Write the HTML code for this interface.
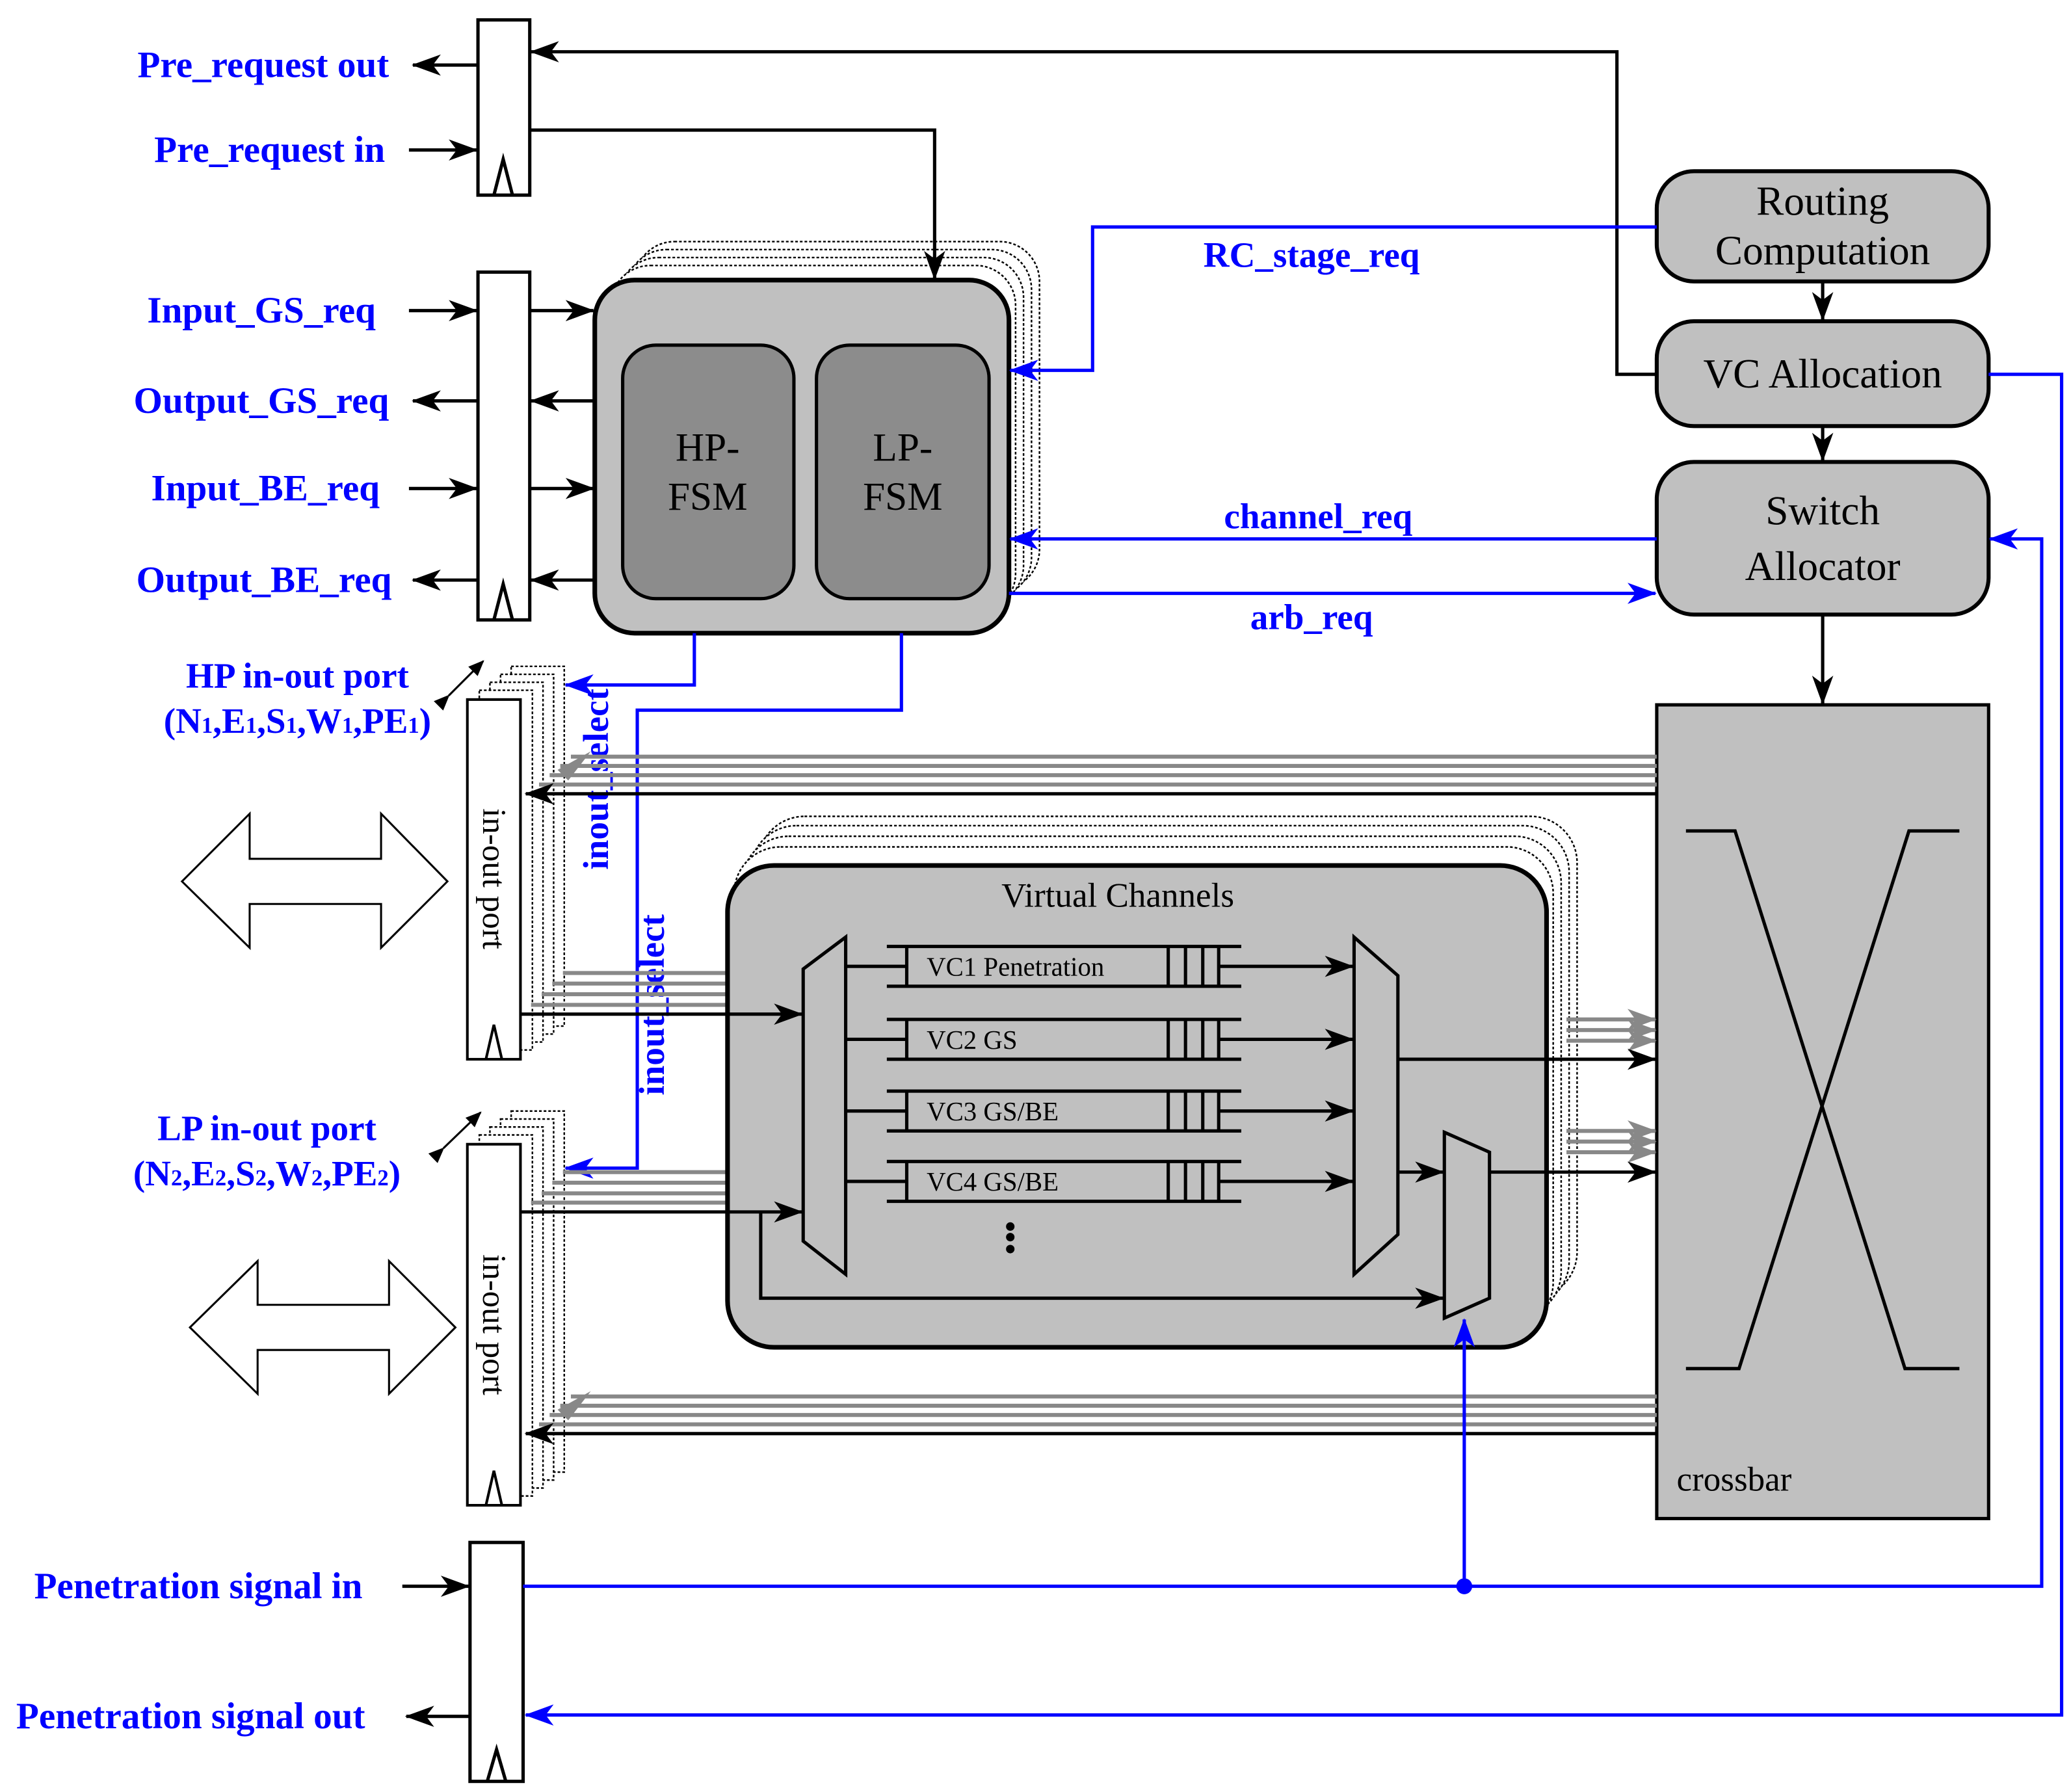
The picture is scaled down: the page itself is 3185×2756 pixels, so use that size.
<!DOCTYPE html>
<html><head><meta charset="utf-8"><style>html,body{margin:0;padding:0;background:#fff}svg{display:block}</style></head>
<body>
<svg xmlns="http://www.w3.org/2000/svg" width="3185" height="2756" viewBox="0 0 1560 1350">
<defs>
<marker id="a" viewBox="0 0 22 16" markerWidth="22" markerHeight="16" refX="21" refY="8" orient="auto" markerUnits="userSpaceOnUse"><path d="M0,0 L22,8 L0,16 L6,8Z" fill="#000"/></marker>
<marker id="b" viewBox="0 0 22 16" markerWidth="22" markerHeight="16" refX="21" refY="8" orient="auto" markerUnits="userSpaceOnUse"><path d="M0,0 L22,8 L0,16 L6,8Z" fill="#00f"/></marker>
<marker id="g" viewBox="0 0 22 16" markerWidth="22" markerHeight="16" refX="21" refY="8" orient="auto" markerUnits="userSpaceOnUse"><path d="M0,0 L22,8 L0,16 L6,8Z" fill="#888"/></marker>
<marker id="s" viewBox="0 0 12 10" markerWidth="12" markerHeight="10" refX="11" refY="5" orient="auto" markerUnits="userSpaceOnUse"><path d="M0,0 L12,5 L0,10Z" fill="#000"/></marker>
</defs>
<g font-family="Liberation Serif, serif" font-weight="bold" fill="#00f" font-size="28" text-anchor="end">
<text x="293" y="58">Pre_request out</text>
<text x="290" y="122">Pre_request in</text>
<text x="283" y="243">Input_GS_req</text>
<text x="293" y="311">Output_GS_req</text>
<text x="286" y="377">Input_BE_req</text>
<text x="295" y="446">Output_BE_req</text>
<text x="273" y="1204">Penetration signal in</text>
<text x="275" y="1302">Penetration signal out</text>
</g>
<g font-family="Liberation Serif, serif" font-weight="bold" fill="#00f" font-size="27" text-anchor="middle">
<text x="224" y="518">HP in-out port</text>
<text x="224" y="552">(N<tspan font-size="17">1</tspan>,E<tspan font-size="17">1</tspan>,S<tspan font-size="17">1</tspan>,W<tspan font-size="17">1</tspan>,PE<tspan font-size="17">1</tspan>)</text>
<text x="201" y="859">LP in-out port</text>
<text x="201" y="893">(N<tspan font-size="17">2</tspan>,E<tspan font-size="17">2</tspan>,S<tspan font-size="17">2</tspan>,W<tspan font-size="17">2</tspan>,PE<tspan font-size="17">2</tspan>)</text>
<text x="988" y="201">RC_stage_req</text>
<text x="993" y="398">channel_req</text>
<text x="988" y="474">arb_req</text>
<text transform="translate(458,587) rotate(-90)">inout_select</text>
<text transform="translate(500,757) rotate(-90)">inout_select</text>
</g>
<g stroke="#000" stroke-width="2.5" fill="none">
<rect x="360" y="15" width="39" height="132" fill="#fff"/>
<path d="M372,147 L379,120 L386,147"/>
<rect x="360" y="205" width="39" height="262" fill="#fff"/>
<path d="M372,467 L379,440 L386,467"/>
<rect x="354" y="1162" width="40" height="180" fill="#fff"/>
<path d="M367,1342 L374,1318 L381,1342"/>
<path d="M360,49 H311" marker-end="url(#a)"/>
<path d="M308,113 H359" marker-end="url(#a)"/>
<path d="M308,234 H359" marker-end="url(#a)"/>
<path d="M399,234 H447" marker-end="url(#a)"/>
<path d="M360,302 H311" marker-end="url(#a)"/>
<path d="M448,302 H400" marker-end="url(#a)"/>
<path d="M308,368 H359" marker-end="url(#a)"/>
<path d="M399,368 H447" marker-end="url(#a)"/>
<path d="M360,437 H311" marker-end="url(#a)"/>
<path d="M448,437 H400" marker-end="url(#a)"/>
<path d="M303,1195 H353" marker-end="url(#a)"/>
<path d="M354,1293 H306" marker-end="url(#a)"/>
<path d="M1248,282 H1218 V39 H400" marker-end="url(#a)"/>
</g>
<g fill="#fff" stroke="#000" stroke-width="1.2" stroke-dasharray="2,1.5">
<rect x="478" y="182" width="305" height="262" rx="30"/>
<rect x="472" y="188" width="305" height="262" rx="30"/>
<rect x="466" y="194" width="305" height="262" rx="30"/>
<rect x="460" y="200" width="305" height="262" rx="30"/>
</g>
<rect x="448" y="211" width="312" height="266" rx="30" fill="#c0c0c0" stroke="#000" stroke-width="3.5"/>
<rect x="469" y="260" width="129" height="191" rx="25" fill="#8c8c8c" stroke="#000" stroke-width="2.5"/>
<rect x="615" y="260" width="130" height="191" rx="25" fill="#8c8c8c" stroke="#000" stroke-width="2.5"/>
<path d="M399,98 H704 V210" stroke="#000" stroke-width="2.5" fill="none" marker-end="url(#a)"/>
<g font-family="Liberation Serif, serif" font-size="30" text-anchor="middle" fill="#000">
<text x="533" y="347">HP-</text><text x="533" y="384">FSM</text>
<text x="680" y="347">LP-</text><text x="680" y="384">FSM</text>
</g>
<g fill="#c0c0c0" stroke="#000" stroke-width="3">
<rect x="1248" y="129" width="250" height="83" rx="28"/>
<rect x="1248" y="242" width="250" height="79" rx="28"/>
<rect x="1248" y="348" width="250" height="115" rx="28"/>
<rect x="1248" y="531" width="250" height="613" stroke-width="2.5"/>
</g>
<g font-family="Liberation Serif, serif" font-size="31" text-anchor="middle" fill="#000">
<text x="1373" y="162">Routing</text><text x="1373" y="199">Computation</text>
<text x="1373" y="292">VC Allocation</text>
<text x="1373" y="395">Switch</text><text x="1373" y="437">Allocator</text>
<text x="1263" y="1123" text-anchor="start" font-size="26">crossbar</text>
</g>
<g stroke="#000" stroke-width="2.5" fill="none">
<path d="M1373,212 V241" marker-end="url(#a)"/>
<path d="M1373,321 V347" marker-end="url(#a)"/>
<path d="M1373,463 V530" marker-end="url(#a)"/>
<path d="M1270,626 H1307 L1435,1031 H1476"/>
<path d="M1270,1031 H1310 L1438,626 H1476"/>
</g>
<g stroke="#00f" stroke-width="2.5" fill="none">
<path d="M1248,171 H823 V279 H761" marker-end="url(#b)"/>
<path d="M1248,406 H761" marker-end="url(#b)"/>
<path d="M760,447 H1247" marker-end="url(#b)"/>
<path d="M1498,282 H1553 V1292 H396" marker-end="url(#b)"/>
<path d="M394,1195 H1538 V406 H1499" marker-end="url(#b)"/>
<path d="M523,477 V516 H426" marker-end="url(#b)"/>
<path d="M679,477 V535 H480 V880 H426" marker-end="url(#b)"/>
</g>
<circle cx="1103" cy="1195" r="6" fill="#00f"/>
<g fill="#fff" stroke="#000" stroke-width="1.2" stroke-dasharray="2,1.5">
<rect x="385" y="502" width="40" height="271"/>
<rect x="377" y="508" width="40" height="271"/>
<rect x="369" y="514" width="40" height="271"/>
<rect x="361" y="520" width="40" height="271"/>
<rect x="385" y="837" width="40" height="272"/>
<rect x="377" y="843" width="40" height="272"/>
<rect x="369" y="849" width="40" height="272"/>
<rect x="361" y="855" width="40" height="272"/>
</g>
<g stroke="#000" stroke-width="2" fill="#fff">
<rect x="352" y="527" width="40" height="271"/>
<rect x="352" y="862" width="40" height="272"/>
<path d="M366,798 L372,772 L378,798" fill="none"/>
<path d="M366,1134 L372,1108 L378,1134" fill="none"/>
</g>
<g font-family="Liberation Serif, serif" font-size="25" fill="#000" text-anchor="middle">
<text transform="translate(364,662) rotate(90)">in-out port</text>
<text transform="translate(364,998) rotate(90)">in-out port</text>
</g>
<g stroke="#000" stroke-width="1.5">
<path d="M338,524 L364,498" marker-end="url(#s)" marker-start="url(#s)"/>
<path d="M334,865 L362,838" marker-end="url(#s)" marker-start="url(#s)"/>
</g>
<g fill="#fff" stroke="#000" stroke-width="1.5">
<path d="M137,664 L188,613 V647 H287 V613 L337,664 L287,714 V681 H188 V714Z"/>
<path d="M143,1000 L194,950 V983 H293 V950 L343,1000 L293,1050 V1017 H194 V1050Z"/>
</g>
<g fill="#fff" stroke="#000" stroke-width="1.2" stroke-dasharray="2,1.5">
<rect x="571" y="615" width="617" height="363" rx="35"/>
<rect x="565" y="622" width="617" height="363" rx="35"/>
<rect x="559" y="630" width="617" height="363" rx="35"/>
<rect x="553" y="638" width="617" height="363" rx="35"/>
</g>
<g stroke="#888" stroke-width="3" fill="none">
<path d="M1248,570 H430"/><path d="M1248,577 H422"/><path d="M1248,584 H414"/><path d="M1248,591 H406"/>
<path d="M1248,1052 H430"/><path d="M1248,1059 H422"/><path d="M1248,1066 H414"/><path d="M1248,1073 H406"/>
<path d="M548,733 H424"/><path d="M548,741 H416"/><path d="M548,749 H408"/><path d="M548,757 H400"/>
<path d="M1180,768 H1247" marker-end="url(#g)"/><path d="M1180,776 H1247" marker-end="url(#g)"/><path d="M1180,784 H1247" marker-end="url(#g)"/>
<path d="M1180,852 H1247" marker-end="url(#g)"/><path d="M1180,860 H1247" marker-end="url(#g)"/><path d="M1180,868 H1247" marker-end="url(#g)"/>
<path d="M548,883 H424"/><path d="M548,891 H416"/><path d="M548,899 H408"/><path d="M548,906 H400"/>
</g>
<path d="M445,566 L420,580 L428,588Z" fill="#888"/>
<path d="M445,1048 L420,1062 L428,1070Z" fill="#888"/>
<g stroke="#000" stroke-width="2.5" fill="none">
<path d="M1248,598 H396" marker-end="url(#a)"/>
<path d="M1248,1080 H396" marker-end="url(#a)"/>
</g>
<rect x="548" y="652" width="617" height="363" rx="35" fill="#c0c0c0" stroke="#000" stroke-width="3.5"/>
<text x="842" y="683" font-family="Liberation Serif, serif" font-size="26" text-anchor="middle">Virtual Channels</text>
<g stroke="#000" stroke-width="2.5" fill="none">
<path d="M392,764 H604" marker-end="url(#a)"/>
<path d="M392,913 H604" marker-end="url(#a)"/>
<path d="M573,913 V978 H1087" marker-end="url(#a)"/>
<path d="M605,730 L637,706 V960 L605,935Z" fill="#c0c0c0"/>
<path d="M1020,706 L1053,735 V930 L1020,960Z" fill="#c0c0c0"/>
<path d="M1088,853 L1122,868 V978 L1088,993Z" fill="#c0c0c0"/>
<path d="M1053,798 H1247" marker-end="url(#a)"/>
<path d="M1053,883 H1087" marker-end="url(#a)"/>
<path d="M1122,883 H1247" marker-end="url(#a)"/>
</g>
<path d="M1103,1195 V994" stroke="#00f" stroke-width="2.5" fill="none" marker-end="url(#b)"/>
<g stroke="#000" stroke-width="2.5" fill="none">
<g><path d="M668,713 H935 M668,743 H935 M683,713 V743 M880,713 V743 M893,713 V743 M906,713 V743 M918,713 V743 M637,728 H683"/><path d="M918,728 H1019" marker-end="url(#a)"/></g>
<g transform="translate(0,55)"><path d="M668,713 H935 M668,743 H935 M683,713 V743 M880,713 V743 M893,713 V743 M906,713 V743 M918,713 V743 M637,728 H683"/><path d="M918,728 H1019" marker-end="url(#a)"/></g>
<g transform="translate(0,109)"><path d="M668,713 H935 M668,743 H935 M683,713 V743 M880,713 V743 M893,713 V743 M906,713 V743 M918,713 V743 M637,728 H683"/><path d="M918,728 H1019" marker-end="url(#a)"/></g>
<g transform="translate(0,162)"><path d="M668,713 H935 M668,743 H935 M683,713 V743 M880,713 V743 M893,713 V743 M906,713 V743 M918,713 V743 M637,728 H683"/><path d="M918,728 H1019" marker-end="url(#a)"/></g>
</g>
<g font-family="Liberation Serif, serif" font-size="20" fill="#000">
<text x="698" y="735">VC1 Penetration</text>
<text x="698" y="790">VC2 GS</text>
<text x="698" y="844">VC3 GS/BE</text>
<text x="698" y="897">VC4 GS/BE</text>
</g>
<circle cx="761" cy="924" r="3.2"/><circle cx="761" cy="932" r="3.2"/><circle cx="761" cy="941" r="3.2"/>
</svg>
</body></html>
